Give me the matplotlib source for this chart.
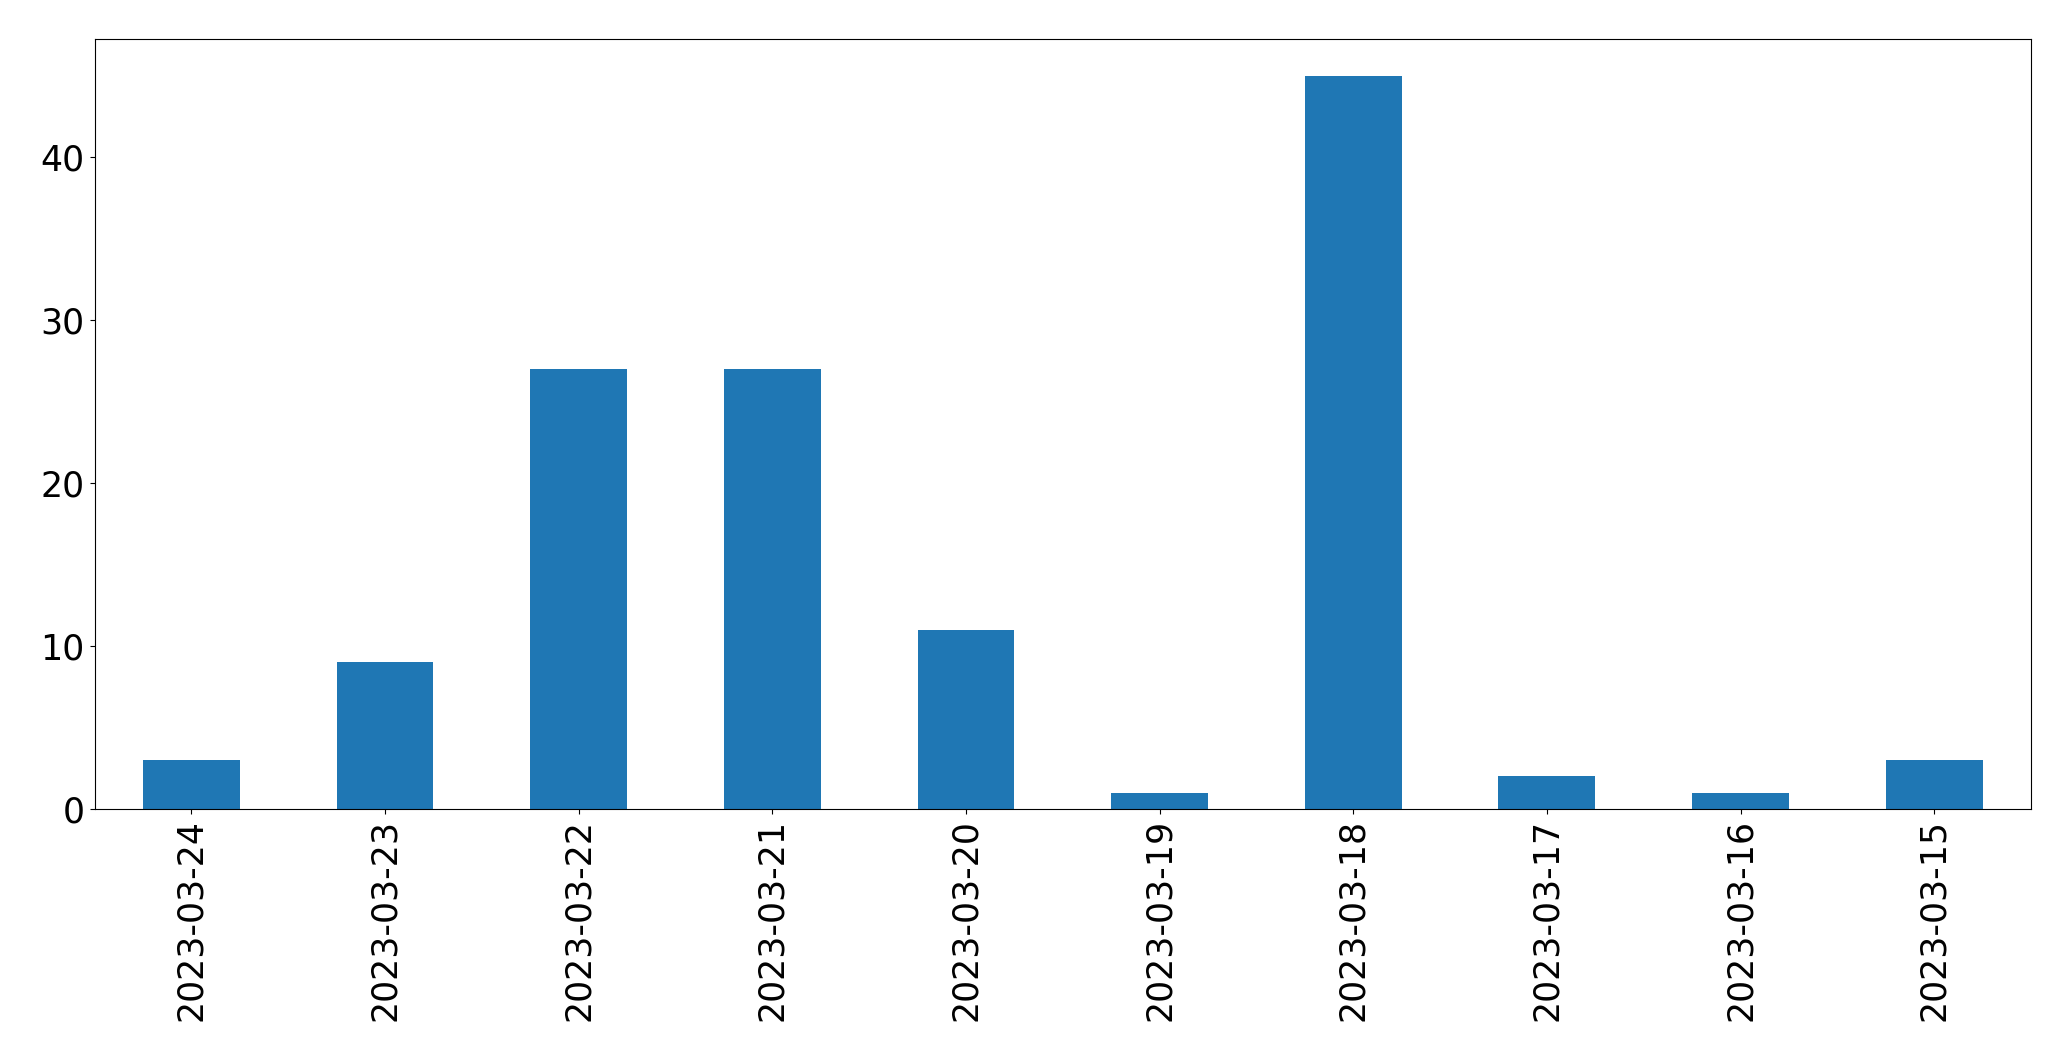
import matplotlib
matplotlib.use("Agg")
import matplotlib.pyplot as plt
import pandas as pd

dates = ["2023-03-24", "2023-03-23", "2023-03-22", "2023-03-21", "2023-03-20",
         "2023-03-19", "2023-03-18", "2023-03-17", "2023-03-16", "2023-03-15"]
counts = [3, 9, 27, 27, 11, 1, 45, 2, 1, 3]

s = pd.Series(counts, index=dates)

fig = plt.figure(figsize=(20.71, 10.61), dpi=100)
ax = fig.add_axes([94.5 / 2071, 1 - 809 / 1061, (2031 - 94.5) / 2071, (809 - 39) / 1061])
s.plot(kind="bar", ax=ax, color="#1f77b4")
ax.tick_params(axis="both", labelsize=25)
fig.savefig("out.png", dpi=100)
